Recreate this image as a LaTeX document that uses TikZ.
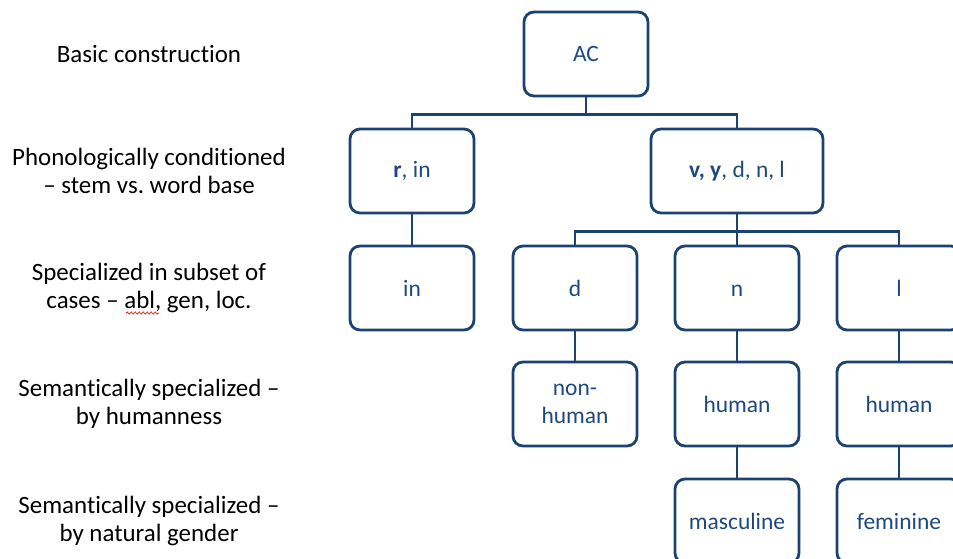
\documentclass[tikz,border=0pt]{standalone}
\usepackage{fontspec}
\setmainfont[Ligatures=NoCommon]{Carlito}
\usepackage{xcolor}
\usetikzlibrary{positioning,calc,decorations.pathmorphing}
\definecolor{boxline}{HTML}{1B4270}
\definecolor{boxtext}{HTML}{1F497D}
\frenchspacing
\tikzset{
  level/.style={align=center, font=\fontsize{18.7}{21}\selectfont},
  unit/.style={draw=boxline, line width=2.1pt, rounded corners=7.5pt, text=boxtext,
    minimum width=93pt, minimum height=63pt, align=center,
    font=\fontsize{17.6}{21}\selectfont},
  link/.style={draw=boxline, line width=2.1pt}
}
\begin{document}
\begin{tikzpicture}[x=0.75pt,y=-0.75pt]
    \clip (0,0) rectangle (953,558);

    % level captions
    \node [level] (capA) at (149, 54) {Basic construction};
    \node [level] (capB) at (149,171) {Phonologically conditioned\\ -- stem vs. word base};
    \node [level] (capC) at (149,288) {Specialized in subset of\\ cases -- abl, gen, loc.};
    \node [level] (capD) at (149,404) {Semantically specialized --\\ by humanness};
    \node [level] (capE) at (149,521) {Semantically specialized --\\ by natural gender};

    % spelling mark under abl
    \draw [red, line width=0.5pt, decorate, decoration={snake, amplitude=0.8pt, segment length=3pt}]
        (126,313) -- (159,313);

    % tree
    \node [unit] (ac) at (586, 54) {AC};

    \node [unit] (rin) at (412,171) {\textbf{r}, in};
    \node [unit, minimum width=129pt] (vy) at (737,171) {\textbf{v, y}, d, n, l};

    \node [unit] (in) at (412,288) {in};
    \node [unit] (d) at (575,288) {d};
    \node [unit] (n) at (737,288) {\vphantom{d}n};
    \node [unit] (l) at (899,288) {l};

    \node [unit] (nonhum) at (575,404) {non-\\human};
    \node [unit] (humn) at (737,404) {human};
    \node [unit] (huml) at (899,404) {human};

    \node [unit] (masc) at (737,521) {masculine};
    \node [unit] (fem) at (899,521) {feminine};

    \draw [link] (ac.south) -- ++(0,17) -| (rin.north);
    \draw [link] (ac.south) -- ++(0,17) -| (vy.north);
    \draw [link] (rin) -- (in);
    \draw [link] (vy.south) -- ++(0,17) -| (d.north);
    \draw [link] (vy.south) -- ++(0,17) -| (l.north);
    \draw [link] (vy) -- (n);
    \draw [link] (d) -- (nonhum);
    \draw [link] (n) -- (humn);
    \draw [link] (l) -- (huml);
    \draw [link] (humn) -- (masc);
    \draw [link] (huml) -- (fem);
\end{tikzpicture}
\end{document}
